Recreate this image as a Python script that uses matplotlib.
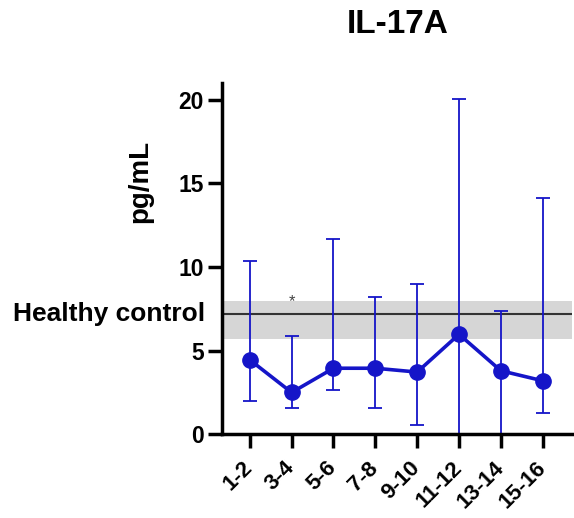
import numpy as np
import matplotlib.pyplot as plt
import matplotlib.transforms as mtransforms

plt.rcParams['font.family'] = ['Liberation Sans', 'DejaVu Sans']

groups = ["1-2", "3-4", "5-6", "7-8", "9-10", "11-12", "13-14", "15-16"]
mean_vals = [4.45, 2.5, 3.95, 3.95, 3.72, 5.98, 3.8, 3.2]
upper_vals = [10.35, 5.9, 11.65, 8.2, 9.0, 20.05, 7.4, 14.1]
lower_vals = [2.0, 1.55, 2.65, 1.55, 0.55, 0.0, 0.0, 1.3]

control_mean = 7.2
control_low = 5.7
control_high = 7.95

blue = '#1515c8'

fig = plt.figure(figsize=(5.74, 5.18), dpi=100)
ax = fig.add_axes([0.386, 0.1616, 0.6105, 0.678])

x = np.arange(len(groups))
mean = np.array(mean_vals)
yerr = [mean - np.array(lower_vals), np.array(upper_vals) - mean]

# healthy control band + line
ax.axhspan(control_low, control_high, color='#d6d6d6', lw=0, zorder=0)
ax.axhline(control_mean, color='#333333', lw=1.5, zorder=1)

ax.errorbar(x, mean, yerr=yerr, fmt='none', ecolor=blue, elinewidth=1.3,
            capsize=5, capthick=1.3, zorder=2)
ax.plot(x, mean, color=blue, lw=2.6, marker='o', ms=11, zorder=3, clip_on=False)

ax.text(1, 7.95, '*', ha='center', va='center', fontsize=12, color='#444444')

ax.set_xlim(-0.675, 7.7)
ax.set_ylim(0, 21)
ax.set_yticks([0, 5, 10, 15, 20])
ax.set_xticks(x)
ax.set_xticklabels(groups, rotation=45, ha='right', va='center',
                   rotation_mode='anchor', fontsize=16, fontweight='bold')
shift = mtransforms.ScaledTranslation(6 / 72, 0, fig.dpi_scale_trans)
for lab in ax.get_xticklabels():
    lab.set_transform(lab.get_transform() + shift)
for lab in ax.get_yticklabels():
    lab.set_fontsize(16.5)
    lab.set_fontweight('bold')

for side in ['top', 'right']:
    ax.spines[side].set_visible(False)
for side in ['left', 'bottom']:
    ax.spines[side].set_linewidth(2.5)
ax.tick_params(axis='both', width=2.5, length=10, pad=3)
ax.tick_params(axis='x', pad=12)

ax.set_ylabel('pg/mL', fontsize=20, fontweight='bold')
ax.yaxis.set_label_coords(-0.196, 0.721)

ax.text(-0.048, control_mean, 'Healthy control', transform=ax.get_yaxis_transform(),
        ha='right', va='center', fontsize=19, fontweight='bold')

fig.text(0.692, 0.952, 'IL-17A', ha='center', va='center', fontsize=24,
         fontweight='bold')

fig.savefig('out.png', dpi=100)
